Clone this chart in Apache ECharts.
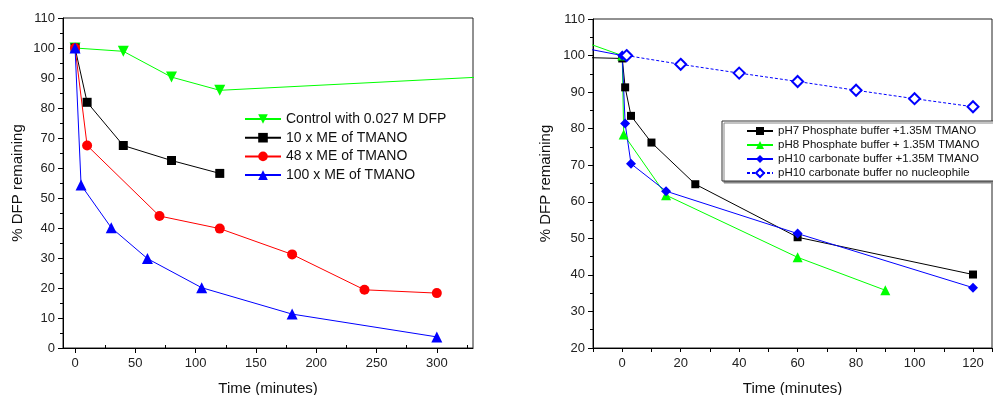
<!DOCTYPE html>
<html>
<head>
<meta charset="utf-8">
<script src="https://cdn.jsdelivr.net/npm/echarts@6/dist/echarts.min.js"></script>
<style>
  html, body { margin: 0; padding: 0; background: #fff; }
  #chart { width: 993px; height: 395px; }
</style>
</head>
<body>
<div id="chart"></div>
<script>
// Left panel: TMANO excess series, [time (min), % DFP remaining]
const controlDFP = [[0, 100], [40, 98.9], [80, 90.3], [120, 85.9], [360, 90.8]]
const tmano10 = [[0, 100], [10, 81.9], [40, 67.5], [80, 62.5], [120, 58.2]]
const tmano48 = [[0, 100], [10, 67.5], [70, 44.0], [120, 39.8], [180, 31.2], [240, 19.4], [300, 18.3]]
const tmano100 = [[0, 100], [5, 54.3], [30, 40.1], [60, 29.8], [105, 20.1], [180, 11.3], [300, 3.7]]

// Right panel: buffer series
const ph7Phosphate = [[-20, 99.6], [0, 99.2], [1, 91.3], [3, 83.5], [10, 76.2], [25, 64.8], [60, 50.3], [120, 40.1]]
const ph8Phosphate = [[-20, 105.7], [0, 100], [0.5, 78.4], [15, 61.8], [60, 44.8], [90, 35.8]]
const ph10Carbonate = [[-20, 103.1], [0, 100], [1, 81.4], [3, 70.4], [15, 62.9], [60, 51.3], [120, 36.5]]
const ph10NoNucleophile = [[1.5, 100], [20, 97.6], [40, 95.2], [60, 92.9], [80, 90.5], [100, 88.2], [120, 86.0]]

const leftMajorTicks = [0, 50, 100, 150, 200, 250, 300]
const leftMinorTicks = [25, 75, 125, 175, 225, 275, 325]
const rightXLabels = [0, 20, 40, 60, 80, 100, 120]

const FONT = '"Liberation Sans", Arial, sans-serif'
const GREEN = '#00ff00'
const chart = echarts.init(document.getElementById('chart'))

const axisText = { color: '#222', fontSize: 13, fontFamily: FONT }
const nameText = { color: '#111', fontSize: 15, fontFamily: FONT }
const blackLine = { show: true, onZero: false, lineStyle: { color: '#000', width: 1 } }

function lineSeries(name, data, xi, color, symbol, size, extra) {
  return Object.assign({
    name,
    type: 'line',
    xAxisIndex: xi,
    yAxisIndex: xi === 2 ? 1 : 0,
    data,
    symbol,
    symbolSize: size,
    clip: true,
    lineStyle: { color, width: 1 },
    itemStyle: { color },
    emphasis: { disabled: true },
    animation: false
  }, extra || {})
}

const option = {
  backgroundColor: '#fff',
  animation: false,
  grid: [
    { left: 63, top: 18, width: 410, height: 330, outerBoundsMode: 'none', show: true, borderColor: '#222', borderWidth: 1, backgroundColor: 'transparent' },
    { left: 593, top: 19, width: 399, height: 329, outerBoundsMode: 'none', show: true, borderColor: '#222', borderWidth: 1, backgroundColor: 'transparent' }
  ],
  xAxis: [
    {
      gridIndex: 0, type: 'value', min: -10, max: 330,
      axisLine: blackLine,
      axisTick: { show: true, customValues: leftMajorTicks, length: 5, lineStyle: { color: '#000' } },
      axisLabel: Object.assign({ customValues: leftMajorTicks, margin: 9 }, axisText),
      splitLine: { show: false },
      name: 'Time (minutes)', nameLocation: 'middle', nameGap: 33, nameTextStyle: nameText
    },
    {
      gridIndex: 0, type: 'value', min: -10, max: 330,
      axisLine: { show: false },
      axisTick: { show: true, customValues: leftMinorTicks, length: 3, lineStyle: { color: '#000' } },
      axisLabel: { show: false },
      splitLine: { show: false }
    },
    {
      gridIndex: 1, type: 'value', min: -10, max: 126.5, interval: 10,
      axisLine: blackLine,
      axisTick: { show: true, length: 4, lineStyle: { color: '#000' } },
      axisLabel: Object.assign({ customValues: rightXLabels, margin: 9 }, axisText),
      splitLine: { show: false },
      name: 'Time (minutes)', nameLocation: 'middle', nameGap: 33, nameTextStyle: nameText
    }
  ],
  yAxis: [
    {
      gridIndex: 0, type: 'value', min: 0, max: 110, interval: 10,
      axisLine: blackLine,
      axisTick: { show: true, length: 5, lineStyle: { color: '#000' } },
      minorTick: { show: true, splitNumber: 2, length: 3, lineStyle: { color: '#000' } },
      axisLabel: Object.assign({ margin: 8 }, axisText),
      splitLine: { show: false },
      name: '% DFP remaining', nameLocation: 'middle', nameGap: 38, nameTextStyle: nameText
    },
    {
      gridIndex: 1, type: 'value', min: 20, max: 110, interval: 10,
      axisLine: blackLine,
      axisTick: { show: true, length: 5, lineStyle: { color: '#000' } },
      minorTick: { show: true, splitNumber: 2, length: 3, lineStyle: { color: '#000' } },
      axisLabel: Object.assign({ margin: 8 }, axisText),
      splitLine: { show: false },
      name: '% DFP remaining', nameLocation: 'middle', nameGap: 40, nameTextStyle: nameText
    }
  ],
  legend: [
    {
      data: ['Control with 0.027 M DFP', '10 x ME of TMANO', '48 x ME of TMANO', '100 x ME of TMANO'],
      orient: 'vertical', left: 244, top: 112, padding: 0,
      itemWidth: 36, itemHeight: 12, itemGap: 4.7,
      textStyle: { color: '#111', fontSize: 14, fontFamily: FONT, lineHeight: 14 },
      selectedMode: false
    },
    {
      data: ['pH7 Phosphate buffer +1.35M TMANO', 'pH8 Phosphate buffer + 1.35M TMANO',
             'pH10 carbonate buffer +1.35M TMANO', 'pH10 carbonate buffer no nucleophile'],
      orient: 'vertical', left: 722, top: 121,
      padding: [4, 19, 2, 24],
      itemWidth: 26, itemHeight: 10, itemGap: 2,
      backgroundColor: '#fff', borderColor: '#333', borderWidth: 1,
      shadowColor: '#888', shadowOffsetX: 2, shadowOffsetY: 2, shadowBlur: 0,
      textStyle: { color: '#111', fontSize: 11.5, fontFamily: FONT, lineHeight: 12 },
      selectedMode: false
    }
  ],
  series: [
    lineSeries('Control with 0.027 M DFP', controlDFP, 0, GREEN, 'triangle', 11, { symbolRotate: 180 }),
    lineSeries('10 x ME of TMANO', tmano10, 0, '#000000', 'rect', 9),
    lineSeries('48 x ME of TMANO', tmano48, 0, '#ff0000', 'circle', 10),
    lineSeries('100 x ME of TMANO', tmano100, 0, '#0000ff', 'triangle', 11),

    lineSeries('pH7 Phosphate buffer +1.35M TMANO', ph7Phosphate, 2, '#000000', 'rect', 8),
    lineSeries('pH8 Phosphate buffer + 1.35M TMANO', ph8Phosphate, 2, GREEN, 'triangle', 10),
    lineSeries('pH10 carbonate buffer +1.35M TMANO', ph10Carbonate, 2, '#0000ff', 'diamond', 10),
    lineSeries('pH10 carbonate buffer no nucleophile', ph10NoNucleophile, 2, '#0000ff', 'emptyDiamond', 11, {
      lineStyle: { color: '#0000ff', width: 1, type: [3, 2] },
      itemStyle: { color: '#0000ff', borderWidth: 1 }
    })
  ]
}

chart.setOption(option)
</script>
</body>
</html>
